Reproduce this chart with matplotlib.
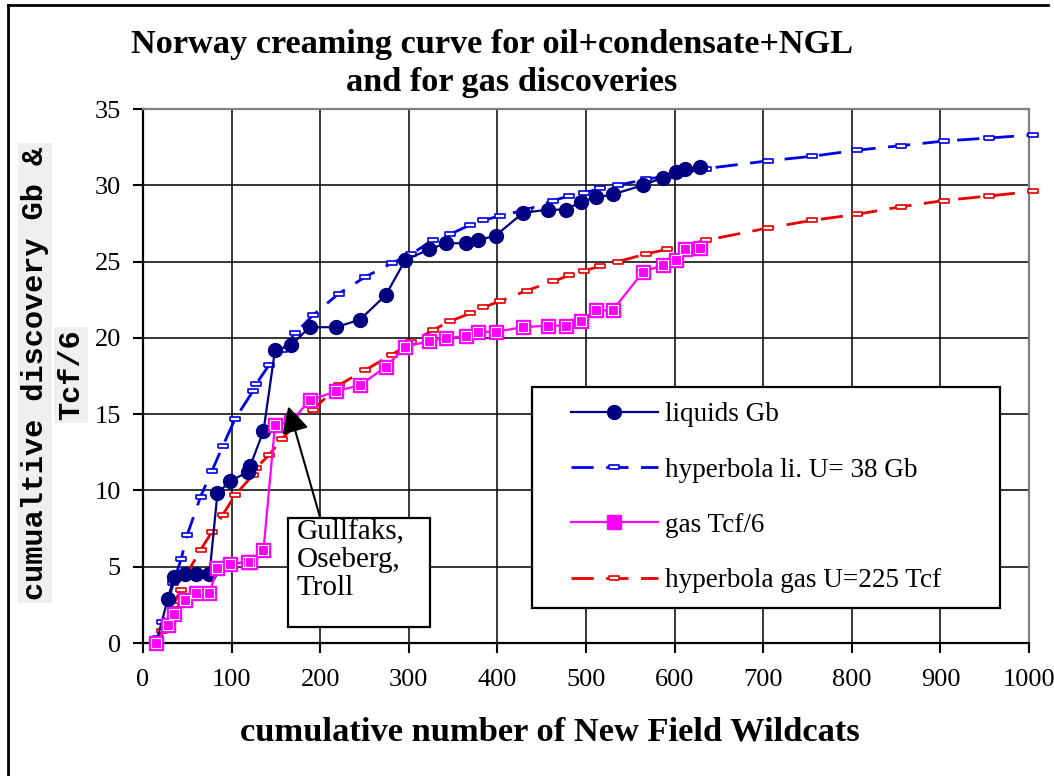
import numpy as np
import matplotlib
matplotlib.use("Agg")
import matplotlib.pyplot as plt
from matplotlib.lines import Line2D
from matplotlib.patches import Rectangle

# cumulative New Field Wildcats and cumulative discoveries
wells = [15, 28, 35, 47, 60, 75, 84, 98, 118, 121, 136, 149, 167, 188, 218, 245,
         274, 296, 323, 342, 365, 378, 398, 429, 457, 477, 494, 511, 530, 564,
         587, 602, 612, 629]
liquids_gb = [0.0, 2.9, 4.3, 4.5, 4.5, 4.5, 9.8, 10.6, 11.2, 11.6, 13.9, 19.2,
              19.5, 20.7, 20.7, 21.2, 22.8, 25.1, 25.8, 26.2, 26.2, 26.4, 26.7,
              28.2, 28.4, 28.4, 28.9, 29.2, 29.4, 30.0, 30.5, 30.9, 31.1, 31.2]
gas_tcf6 = [0.0, 1.2, 1.9, 2.8, 3.3, 3.3, 4.9, 5.2, 5.3, 5.3, 6.1, 14.3,
            14.5, 15.9, 16.5, 16.9, 18.1, 19.4, 19.8, 20.0, 20.1, 20.4, 20.4,
            20.7, 20.8, 20.8, 21.1, 21.8, 21.8, 24.3, 24.8, 25.1, 25.8, 25.9]

# hyperbola fits
hyp_wells = [17, 22, 34, 43, 50, 65, 78, 90, 104, 124, 128, 142, 157, 172, 192,
             221, 251, 281, 303, 327, 347, 369, 384, 403, 433, 463, 481, 498,
             516, 536, 568, 591, 615, 636, 705, 755, 806, 856, 904, 955, 1004]
hyp_liquids = [0.3, 1.4, 3.9, 5.5, 7.1, 9.6, 11.3, 12.9, 14.7, 16.5, 17.0, 18.2,
               19.2, 20.3, 21.5, 22.9, 24.0, 24.9, 25.5, 26.4, 26.8, 27.4, 27.7,
               28.0, 28.4, 29.0, 29.3, 29.5, 29.8, 30.0, 30.4, 30.6, 31.0, 31.1,
               31.6, 31.9, 32.3, 32.6, 32.9, 33.1, 33.3]
hyp_gas = [0.0, 0.8, 2.5, 3.5, 4.6, 6.1, 7.3, 8.4, 9.7, 11.0, 11.5, 12.3, 13.4,
           14.3, 15.3, 16.9, 17.9, 18.9, 19.7, 20.5, 21.1, 21.6, 22.0, 22.4,
           23.1, 23.7, 24.1, 24.4, 24.7, 25.0, 25.5, 25.8, 26.1, 26.4, 27.2,
           27.7, 28.1, 28.6, 29.0, 29.3, 29.6]

xticks = list(range(0, 1001, 100))
yticks = list(range(0, 36, 5))

W, H = 1054, 776
serif = "Liberation Serif"
plt.rcParams["font.family"] = [serif, "DejaVu Sans"]

fig = plt.figure(figsize=(W / 100, H / 100), dpi=100)
ax = fig.add_axes([143 / W, 1 - 643 / H, (1029 - 143) / W, (643 - 109) / H])

# small hollow bar marker used by the hyperbola series
bar = [(-1, -0.45), (1, -0.45), (1, 0.45), (-1, 0.45), (-1, -0.45)]

ax.plot(wells, liquids_gb, color="#000080", lw=1.6, marker="o", ms=10,
        mfc="#000080", mec="#000080", label="liquids Gb", zorder=5, clip_on=False)
ax.plot(hyp_wells, hyp_liquids, color="#0000E6", lw=2, dashes=(8, 4.5),
        marker=bar, ms=7, mfc="white", mec="#0000E6", mew=1.2,
        label="hyperbola li. U= 38 Gb", zorder=4, clip_on=False)
ax.plot(wells, gas_tcf6, color="#FF00FF", lw=1.6, marker="s", ms=10,
        mfc="#FF00FF", mec="#FF00FF", label="gas Tcf/6", zorder=5, clip_on=False)
# white inner highlight of the gas squares
ax.plot(wells, gas_tcf6, ls="none", marker="s", ms=6.5, mfc="none", mec="white",
        mew=0.8, zorder=6, clip_on=False)
ax.plot(hyp_wells, hyp_gas, color="#E60000", lw=2, dashes=(8, 4.5),
        marker=bar, ms=7, mfc="white", mec="#E60000", mew=1.2,
        label="hyperbola gas U=225 Tcf", zorder=4, clip_on=False)

ax.set_xlim(0, 1000)
ax.set_ylim(0, 35)
ax.set_xticks(xticks)
ax.set_yticks(yticks)
ax.tick_params(direction="out", length=7, width=1.5, labelsize=19, pad=9)
ax.tick_params(axis="x", pad=12)
ax.grid(True, color="black", lw=1.1)
ax.set_axisbelow(True)
for s in ["left", "bottom"]:
    ax.spines[s].set_linewidth(1.6)
    ax.spines[s].set_color("black")
for s in ["top", "right"]:
    ax.spines[s].set_linewidth(1.6)
    ax.spines[s].set_color("#808080")

# legend with its own frame
ax.add_patch(Rectangle((0.439, 0.0655), 0.528, 0.4135, transform=ax.transAxes,
                       facecolor="white", edgecolor="black", lw=1.6, zorder=7))
leg = ax.legend(loc="upper left", bbox_to_anchor=(0.474, 0.466), frameon=False,
                fontsize=19.5, numpoints=1, handlelength=3.2, handletextpad=0.28,
                labelspacing=1.12, borderpad=0.3, borderaxespad=0)
leg.set_zorder(8)

# annotation: arrow, box and label
ax.annotate("", xy=(164, 15.5), xytext=(200, 8.2),
            arrowprops=dict(arrowstyle="-|>,head_length=0.8,head_width=0.42",
                            color="black", lw=1.5, mutation_scale=20,
                            shrinkA=0, shrinkB=0), zorder=9)
ax.add_patch(Rectangle((164, 1.05), 160, 7.14, facecolor="white",
                       edgecolor="black", lw=1.6, zorder=8))
ax.text(173, 8.1, "Gullfaks,\nOseberg,\nTroll", fontsize=21, ha="left", va="top",
        linespacing=1.1, zorder=9)

# titles and axis labels
fig.text(492 / W, 1 - 44 / H, "Norway creaming curve for oil+condensate+NGL",
         ha="center", va="center", fontsize=24.7, fontweight="bold")
fig.text(512 / W, 1 - 82 / H, "and for gas discoveries",
         ha="center", va="center", fontsize=24.7, fontweight="bold")
fig.text(550 / W, 1 - 732 / H, "cumulative number of New Field Wildcats",
         ha="center", va="center", fontsize=24.8, fontweight="bold")
ylab = dict(rotation=90, ha="center", va="center", fontsize=21.8,
            family=["Liberation Mono", "DejaVu Sans Mono"], fontweight="bold",
            bbox=dict(boxstyle="square,pad=0.1", fc="#EFEFEF", ec="none"))
fig.text(35 / W, 1 - 373 / H, "cumualtive discovery Gb &", **ylab)
fig.text(71 / W, 1 - 375 / H, "Tcf/6", **ylab)

# outer frame (top and left edges visible)
fig.add_artist(Line2D([8 / W, 8 / W], [0, 1 - 5 / H], transform=fig.transFigure,
                      color="black", lw=2))
fig.add_artist(Line2D([8 / W, 1048 / W], [1 - 5 / H, 1 - 5 / H],
                      transform=fig.transFigure, color="black", lw=2))

fig.savefig("out.png", dpi=100)
